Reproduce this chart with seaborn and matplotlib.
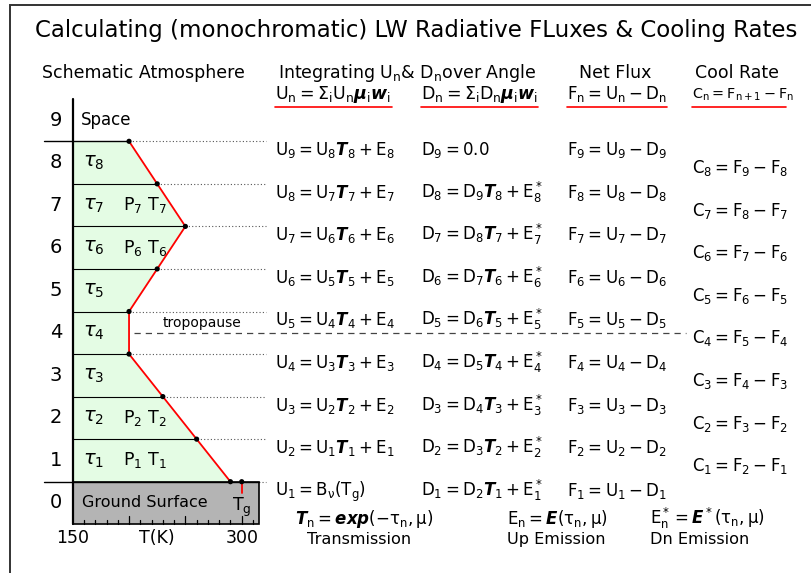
import matplotlib
matplotlib.use("Agg")
import matplotlib.pyplot as plt
from matplotlib.patches import Rectangle
from matplotlib.transforms import blended_transform_factory
import numpy as np
import pandas as pd
import seaborn as sns

sns.set_theme(style="white")
plt.rcParams["font.family"] = ["DejaVu Sans"]
plt.rcParams["text.color"] = "black"
plt.rcParams["mathtext.default"] = "regular"
plt.rcParams["mathtext.fontset"] = "dejavusans"

# ---------------------------------------------------------------- data
# interface levels (layer n sits at level n, its top at n + 0.5)
interface_levels = [0.5, 1.5, 2.5, 3.5, 4.5, 5.5, 6.5, 7.5, 8.5]
interface_index = [1, 2, 3, 4, 5, 6, 7, 8, 9]
interface_temps = [290, 260, 230, 200, 200, 225, 250, 225, 200]   # K
ground_temp = 300                                                  # K
layer_numbers = [0, 1, 2, 3, 4, 5, 6, 7, 8, 9]
layers = [1, 2, 3, 4, 5, 6, 7, 8]
layers_with_pt = [1, 2, 6, 7]
tropopause_level = 4
temp_tick_labels = ["150", "T(K)", "300"]
temp_tick_values = [150, 225, 300]

W, H = 811, 573
fig = plt.figure(figsize=(W / 100, H / 100), dpi=100)

# pixel geometry of the schematic column
X150 = 72.7        # pixel x of 150 K
PX_PER_K = 1.1267
Y_SURF = 481.7     # pixel y of the surface (level 0.5)
PX_PER_LEVEL = 42.55

ax = fig.add_axes([0, 0, 1, 1])
ax.set_xlim(150 - X150 / PX_PER_K, 150 + (W - X150) / PX_PER_K)
ax.set_ylim(0.5 - (H - Y_SURF) / PX_PER_LEVEL, 0.5 + Y_SURF / PX_PER_LEVEL)
ax.axis("off")

fx = lambda px: px / W
fy = lambda py: 1 - py / H
row = blended_transform_factory(fig.transFigure, ax.transData)

# outer frame
fig.add_artist(Rectangle((fx(10), -0.2), 1.3, fy(5) + 0.2, transform=fig.transFigure,
                         fill=False, ec="#333333", lw=1.4))

fig.text(fx(35), fy(36.5), "Calculating (monochromatic) LW Radiative FLuxes & Cooling Rates",
         fontsize=16.5, va="baseline", ha="left")

# ---------------------------------------------------------- atmosphere column
prof = pd.DataFrame({"T": interface_temps, "level": interface_levels})
ax.fill_betweenx(prof["level"], 150, prof["T"], color="#e4fce4", lw=0, zorder=1)

left_ext = 150 - (X150 - 44) / PX_PER_K
box_right = 315
for lev, t in zip(interface_levels, interface_temps):
    x0 = left_ext if lev in (interface_levels[0], interface_levels[-1]) else 150
    x1 = box_right if lev == interface_levels[0] else t
    ax.plot([x0, x1], [lev, lev], color="black", lw=1.0 if lev in (0.5, 8.5) else 0.8, zorder=3)

# ground surface
ax.add_patch(Rectangle((150, -0.5), box_right - 150, 1.0, fc="#b4b4b4", ec="black", lw=1.2, zorder=2))
for t in range(160, 311, 10):
    ln = 0.2 if t % 50 == 0 else 0.1
    ax.plot([t, t], [-0.5, -0.5 + ln], color="black", lw=0.9, zorder=3)

ax.plot([150, 150], [-0.5, 9.5], color="black", lw=1.6, zorder=4)

# dotted guides to the equations
dot_end = 150 + (266 - X150) / PX_PER_K
for lev, t in zip(interface_levels, interface_temps):
    start = ground_temp if lev == interface_levels[0] else t
    ax.plot([start, dot_end], [lev, lev], color="#555555", lw=0.8, ls=(0, (1, 2)), zorder=2)

sns.lineplot(data=prof, x="T", y="level", sort=False, estimator=None, color="red",
             lw=1.3, ax=ax, zorder=5, legend=False)
ax.plot([ground_temp, ground_temp], [0.5, 0.5 - 11 / PX_PER_LEVEL], color="red", lw=1.3, zorder=5)
dots = pd.DataFrame({"T": interface_temps + [ground_temp],
                     "level": interface_levels + [interface_levels[0]]})
sns.scatterplot(data=dots, x="T", y="level", color="black", s=14, edgecolor="none",
                ax=ax, zorder=6, legend=False)
ax.set_xlabel("")
ax.set_ylabel("")

# tropopause
ax.plot([fx(134), fx(686)], [tropopause_level, tropopause_level], transform=row,
        color="#444444", lw=0.9, ls=(0, (5, 4)), zorder=2)
ax.text(fx(202), tropopause_level + 0.07, "tropopause", transform=row, ha="center",
        va="bottom", fontsize=10)

# labels of the column
for n in layer_numbers:
    ax.text(fx(56), n, str(n), transform=row, ha="center", va="center", fontsize=14)
ax.text(fx(81), 9, "Space", transform=row, ha="left", va="center", fontsize=12)
for n in layers:
    ax.text(fx(83), n, r"$\mathit{\tau}_{%d}$" % n, transform=row, ha="left",
            va="center", fontsize=14)
for n in layers_with_pt:
    ax.text(fx(123), n, r"$P_{%d}$ $T_{%d}$" % (n, n), transform=row, ha="left",
            va="center", fontsize=12.5)
ax.text(fx(82), 0, "Ground Surface", transform=row, ha="left", va="center", fontsize=11.5)
ax.text(ground_temp, 0.18, r"$T_g$", ha="center", va="top", fontsize=12.5)
for lab, t in zip(temp_tick_labels, temp_tick_values):
    ax.text(t, -0.62, lab, ha="center", va="top", fontsize=12.5)

# ------------------------------------------------------------ headers
hdr_y = fy(78)
fig.text(fx(143), hdr_y, "Schematic Atmosphere", ha="center", va="baseline", fontsize=12.5)
fig.text(fx(407), hdr_y, r"Integrating $U_n$& $D_n$over Angle", ha="center", va="baseline", fontsize=12.5)
fig.text(fx(615), hdr_y, "Net Flux", ha="center", va="baseline", fontsize=12.5)
fig.text(fx(737), hdr_y, "Cool Rate", ha="center", va="baseline", fontsize=12.5)

def_y = fy(99)
defs = [(275, 392, 12.5, r"$U_n = \Sigma_i U_n \mathbfit{\mu}_i \mathbfit{w}_i$"),
        (421, 538, 12.5, r"$D_n = \Sigma_i D_n \mathbfit{\mu}_i \mathbfit{w}_i$"),
        (567, 667, 12.0, r"$F_n = U_n - D_n$"),
        (692, 786, 10.4, r"$C_n = F_{n+1} - F_n$")]
for x0, x1, size, s in defs:
    fig.text(fx(x0), def_y, s, ha="left", va="baseline", fontsize=size)
    fig.add_artist(plt.Line2D([fx(x0), fx(x1)], [fy(107.3), fy(107.3)],
                              transform=fig.transFigure, color="red", lw=1.2))

# ------------------------------------------------------------ equation rows
fs = 12
off = 14 / PX_PER_LEVEL
for n, lev in zip(interface_index, interface_levels):
    if n == 1:
        u = r"$U_1 = B_\nu(T_g)$"
    else:
        u = r"$U_{%d} = U_{%d}\mathbfit{T}_{%d} + E_{%d}$" % (n, n - 1, n - 1, n - 1)
    if n == 9:
        d = r"$D_9 = 0.0$"
    else:
        d = r"$D_{%d} = D_{%d}\mathbfit{T}_{%d} + E^*_{%d}$" % (n, n + 1, n, n)
    f = r"$F_{%d} = U_{%d} - D_{%d}$" % (n, n, n)
    ax.text(fx(275), lev - off, u, transform=row, ha="left", va="baseline", fontsize=fs)
    ax.text(fx(421), lev - off, d, transform=row, ha="left", va="baseline", fontsize=fs)
    ax.text(fx(567), lev - off, f, transform=row, ha="left", va="baseline", fontsize=fs)

for n in layers:
    c = r"$C_{%d} = F_{%d} - F_{%d}$" % (n, n + 1, n)
    ax.text(fx(692), n - 0.25, c, transform=row, ha="left", va="baseline", fontsize=fs)

# ------------------------------------------------------------ footnotes
foot = [(295, 307, r"$\mathbfit{T}_n = \mathbfit{exp}(-\tau_n,\mu)$", "Transmission"),
        (507, 507, r"$E_n = \mathbfit{E}(\tau_n,\mu)$", "Up Emission"),
        (650, 650, r"$E^*_n = \mathbfit{E}^*(\tau_n,\mu)$", "Dn Emission")]
for x0, x1, s, lab in foot:
    fig.text(fx(x0), fy(524), s, ha="left", va="baseline", fontsize=12)
    fig.text(fx(x1), fy(544), lab, ha="left", va="baseline", fontsize=11.6)

fig.savefig("out.png", dpi=100)
